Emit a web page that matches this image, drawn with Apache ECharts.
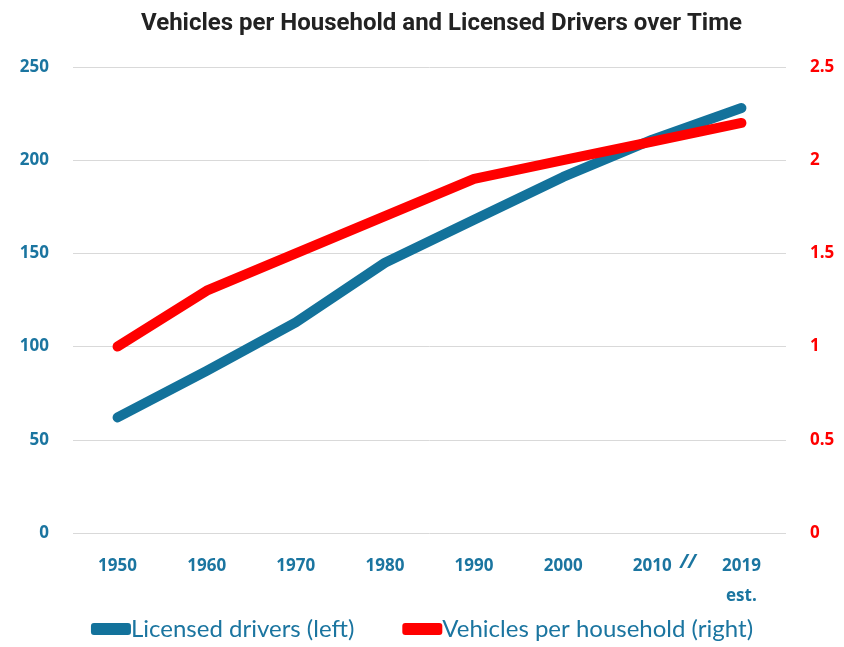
<!DOCTYPE html>
<html>
<head>
<meta charset="utf-8">
<script src="https://cdn.jsdelivr.net/npm/echarts@6/dist/echarts.min.js"></script>
<style>
html,body{margin:0;padding:0;background:#fff;}
#chart{width:844px;height:647px;}
</style>
</head>
<body>
<div id="chart"></div>
<script>
const categories = ['1950', '1960', '1970', '1980', '1990', '2000', '2010', '2019\nest.'];
const licensedDrivers = [62, 87, 113, 145, 168, 191, 211, 228];
const vehiclesPerHousehold = [1.0, 1.3, 1.5, 1.7, 1.9, 2.0, 2.1, 2.2];
const leftTicks = [0, 50, 100, 150, 200, 250];
const rightTicks = [0, 0.5, 1, 1.5, 2, 2.5];
const breakMark = '//';

const BLUE = '#13729b';
const LABEL_BLUE = '#1b75a0';
const RED = '#ff0000';

const chart = echarts.init(document.getElementById('chart'));
chart.setOption({
  backgroundColor: '#ffffff',
  animation: false,
  title: {
    text: 'Vehicles per Household and Licensed Drivers over Time',
    left: 136,
    top: 7,
    textStyle: {
      fontFamily: 'Roboto, sans-serif',
      fontWeight: 'bold',
      fontSize: 24,
      color: '#222222'
    }
  },
  legend: {
    bottom: 1,
    left: 'center',
    itemWidth: 40,
    itemHeight: 12,
    itemGap: 48,
    icon: 'roundRect',
    textStyle: {
      fontFamily: 'Lato, "Open Sans", sans-serif',
      fontSize: 24,
      color: LABEL_BLUE,
      padding: [0, 0, 0, -5]
    },
    data: ['Licensed drivers (left)', 'Vehicles per household (right)']
  },
  grid: { left: 73, right: 58, top: 67, bottom: 114 },
  xAxis: {
    type: 'category',
    data: categories,
    boundaryGap: true,
    axisLine: { show: false },
    axisTick: { show: false },
    axisLabel: {
      margin: 18,
      fontFamily: '"Open Sans", sans-serif',
      fontWeight: 'bold',
      fontSize: 17,
      lineHeight: 30,
      color: LABEL_BLUE,
      align: 'center'
    }
  },
  yAxis: [
    {
      type: 'value',
      min: leftTicks[0],
      max: leftTicks[leftTicks.length - 1],
      interval: 50,
      position: 'left',
      axisLine: { show: false },
      axisTick: { show: false },
      splitLine: { lineStyle: { color: '#d9d9d9', width: 1 } },
      axisLabel: {
        margin: 24,
        fontFamily: '"Open Sans", sans-serif',
        fontWeight: 'bold',
        fontSize: 17,
        color: LABEL_BLUE
      }
    },
    {
      type: 'value',
      min: rightTicks[0],
      max: rightTicks[rightTicks.length - 1],
      interval: 0.5,
      position: 'right',
      axisLine: { show: false },
      axisTick: { show: false },
      splitLine: { show: false },
      axisLabel: {
        margin: 24,
        fontFamily: '"Open Sans", sans-serif',
        fontWeight: 'bold',
        fontSize: 17,
        color: RED
      }
    }
  ],
  series: [
    {
      name: 'Licensed drivers (left)',
      type: 'line',
      yAxisIndex: 0,
      data: licensedDrivers,
      showSymbol: false,
      symbol: 'none',
      lineStyle: { color: BLUE, width: 10, cap: 'round', join: 'round' },
      itemStyle: { color: BLUE }
    },
    {
      name: 'Vehicles per household (right)',
      type: 'line',
      yAxisIndex: 1,
      data: vehiclesPerHousehold,
      showSymbol: false,
      symbol: 'none',
      lineStyle: { color: RED, width: 10, cap: 'round', join: 'round' },
      itemStyle: { color: RED }
    }
  ]
});

// place the axis-break mark between the last two categories, using the axis scale
const p1 = chart.convertToPixel({ xAxisIndex: 0 }, categories[categories.length - 2]);
const p2 = chart.convertToPixel({ xAxisIndex: 0 }, categories[categories.length - 1]);
const yBase = chart.convertToPixel({ yAxisIndex: 0 }, leftTicks[0]);
chart.setOption({
  graphic: [{
    type: 'text',
    x: (p1 + p2) / 2 - 9,
    y: yBase + 18 + 2,
    style: {
      text: breakMark,
      fontFamily: '"Open Sans", sans-serif',
      fontWeight: 'bold',
      fontStyle: 'italic',
      fontSize: 19,
      fill: LABEL_BLUE,
      align: 'center',
      verticalAlign: 'top'
    }
  }]
});
</script>
</body>
</html>
